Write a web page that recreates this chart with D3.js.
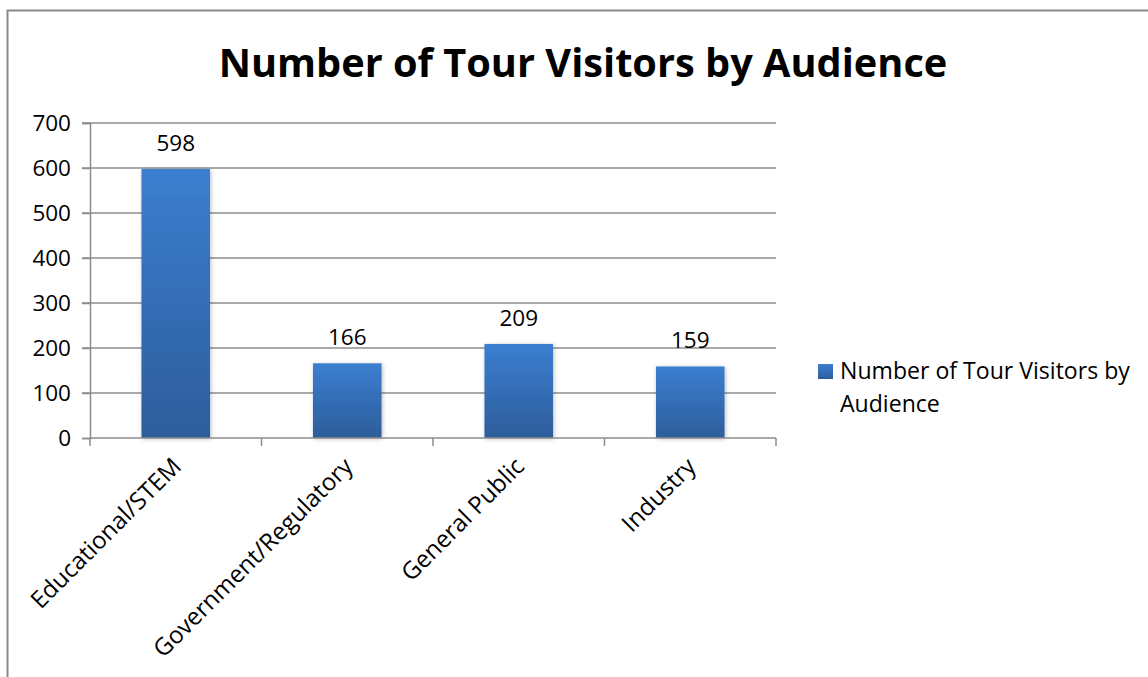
<!DOCTYPE html>
<html>
<head>
<meta charset="utf-8">
<script src="https://cdn.jsdelivr.net/npm/d3@7"></script>
<style>
  body { margin: 0; background: #fff; }
  text { font-family: "Open Sans", "Noto Sans", sans-serif; fill: #000; }
</style>
</head>
<body>
<script>
// data
var categories = ["Educational/STEM", "Government/Regulatory", "General Public", "Industry"];
var visitors = [598, 166, 209, 159];
var yTicks = [0, 100, 200, 300, 400, 500, 600, 700];
var title = "Number of Tour Visitors by Audience";
var legendLines = ["Number of Tour Visitors by", "Audience"];

var w = 1148, h = 677;
var plot = { left: 90, right: 776, top: 123, bottom: 438 };

var svg = d3.select("body").append("svg")
    .attr("width", w)
    .attr("height", h);

// gradient + shadow for bars
var defs = svg.append("defs");
var grad = defs.append("linearGradient")
    .attr("id", "barGrad")
    .attr("x1", 0).attr("y1", 0).attr("x2", 0).attr("y2", 1);
grad.append("stop").attr("offset", "0%").attr("stop-color", "#3b7ed0");
grad.append("stop").attr("offset", "100%").attr("stop-color", "#2d5d9b");

var shadow = defs.append("filter").attr("id", "shadow")
    .attr("x", "-20%").attr("y", "-20%").attr("width", "140%").attr("height", "140%");
shadow.append("feDropShadow")
    .attr("dx", 1).attr("dy", 1).attr("stdDeviation", 2)
    .attr("flood-color", "#000").attr("flood-opacity", 0.25);

// outer border
svg.append("rect")
    .attr("x", 7.5).attr("y", 10.5)
    .attr("width", w + 10).attr("height", h + 10)
    .attr("fill", "none")
    .attr("stroke", "#8a8a8a")
    .attr("stroke-width", 2);

//Scales
var x = d3.scaleBand().domain(categories).range([plot.left, plot.right]).paddingInner(0.6).paddingOuter(0.3);
var xBand = d3.scaleBand().domain(categories).range([plot.left, plot.right]);
var y = d3.scaleLinear().domain([0, 700]).range([plot.bottom, plot.top]);

// gridlines
svg.append("g")
    .selectAll("line")
    .data(yTicks.slice(1))
    .enter()
    .append("line")
    .attr("x1", plot.left - 8)
    .attr("x2", plot.right)
    .attr("y1", d => y(d))
    .attr("y2", d => y(d))
    .attr("stroke", "#8c8c8c")
    .attr("stroke-width", 1.5);

// y axis
var yAxis = svg.append("g")
    .attr("transform", "translate(" + plot.left + ",0)")
    .call(d3.axisLeft(y).tickValues(yTicks).tickSize(8).tickPadding(11));
yAxis.select(".domain").attr("stroke", "#8c8c8c").attr("stroke-width", 1.5);
yAxis.selectAll(".tick line").attr("stroke", "#8c8c8c").attr("stroke-width", 1.5);
yAxis.selectAll(".tick text")
    .style("font-family", "'Open Sans', sans-serif")
    .style("font-size", "22.5px")
    .attr("fill", "#000");

// bars
svg.append("g")
    .selectAll("rect")
    .data(visitors)
    .enter()
    .append("rect")
    .attr("x", (d, i) => x(categories[i]))
    .attr("width", x.bandwidth())
    .attr("y", d => y(d))
    .attr("height", d => y(0) - y(d))
    .attr("fill", "url(#barGrad)")
    .attr("filter", "url(#shadow)");

// x axis
var xAxis = svg.append("g")
    .attr("transform", "translate(0," + plot.bottom + ")");
xAxis.append("line")
    .attr("x1", plot.left).attr("x2", plot.right)
    .attr("stroke", "#8c8c8c").attr("stroke-width", 1.5);
xAxis.selectAll(".xt")
    .data(d3.range(categories.length + 1))
    .enter()
    .append("line")
    .attr("x1", i => plot.left + i * xBand.bandwidth())
    .attr("x2", i => plot.left + i * xBand.bandwidth())
    .attr("y1", 0).attr("y2", 8)
    .attr("stroke", "#8c8c8c").attr("stroke-width", 1.5);

xAxis.selectAll(".xl")
    .data(categories)
    .enter()
    .append("text")
    .attr("transform", d => "translate(" + (xBand(d) + xBand.bandwidth() / 2 + 1) + ",24) rotate(-45)")
    .attr("text-anchor", "end")
    .attr("dy", "0.35em")
    .style("font-size", "24px")
    .text(d => d);

// data labels
svg.append("g")
    .selectAll("text")
    .data(visitors)
    .enter()
    .append("text")
    .attr("x", (d, i) => x(categories[i]) + x.bandwidth() / 2)
    .attr("y", d => y(d) - 18)
    .attr("text-anchor", "middle")
    .style("font-size", "22.5px")
    .text(d => d);

// title, fitted to the reference width
var t = svg.append("text")
    .attr("x", 583)
    .attr("y", 77)
    .attr("text-anchor", "middle")
    .style("font-size", "40px")
    .style("font-weight", "bold")
    .text(title);
var tw = t.node().getComputedTextLength();
t.style("font-size", (40 * 729 / tw) + "px");

// legend
svg.append("rect")
    .attr("x", 818).attr("y", 364)
    .attr("width", 15).attr("height", 15)
    .attr("fill", "url(#barGrad)");
var lg = svg.append("g");
lg.selectAll("text")
    .data(legendLines)
    .enter()
    .append("text")
    .attr("x", 840)
    .attr("y", (d, i) => 379 + i * 33)
    .style("font-size", "21px")
    .text(d => d);
var lw = lg.select("text").node().getComputedTextLength();
lg.selectAll("text").style("font-size", (21 * 290 / lw) + "px");
</script>
</body>
</html>
